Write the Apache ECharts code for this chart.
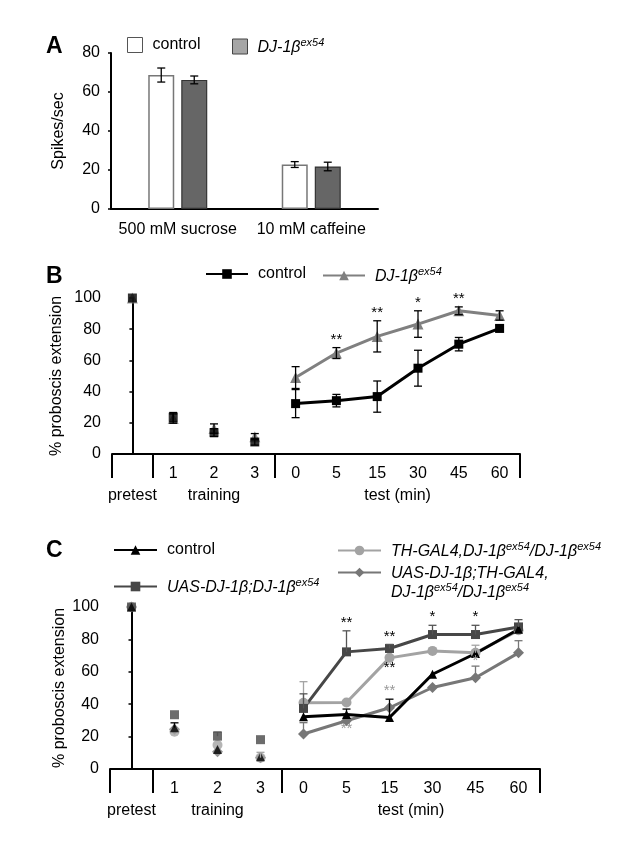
<!DOCTYPE html>
<html>
<head>
<meta charset="utf-8">
<script src="https://cdn.jsdelivr.net/npm/echarts@6/dist/echarts.min.js"></script>
<style>
  html, body { margin: 0; padding: 0; background: #fff; }
  #main { width: 621px; height: 863px; }
</style>
</head>
<body>
<div id="main"></div>
<script>
// ---- panel A : spikes/sec
const stimuliA = ['500 mM sucrose', '10 mM caffeine'];
const controlA = [68.7, 22.8];
const controlAErr = [3.6, 1.5];
const mutantA = [66.2, 21.8];
const mutantAErr = [2.0, 2.2];

// ---- x categories shared by B and C
const timepoints = ['', '1', '2', '3', '0', '5', '15', '30', '45', '60'];
const phases = [
  { name: 'pretest', first: 0, last: 0 },
  { name: 'training', first: 1, last: 3 },
  { name: 'test (min)', first: 4, last: 9 }
];

// ---- panel B
const controlB = [100, 23.6, 13.7, 7.7, 32.3, 34.2, 36.8, 55.0, 70.4, 80.5];
const controlBErr = [0, 3, 2.5, 2, 9, 4, 10, 11.5, 4.3, 2];
const mutantB = [100, 22.7, 16.3, 11.1, 49.0, 64.7, 75.4, 83.3, 91.8, 88.8];
const mutantBErr = [0, 3, 3, 2, 7, 3.5, 10, 8.5, 2.5, 3];
const sigB = ['', '', '', '', '', '**', '**', '*', '**', ''];

// ---- panel C
const controlC = [100, 25.5, 12.0, 7.5, 32.2, 33.7, 31.8, 58.5, 71.3, 86.3];
const controlCErr = [0, 3, 0, 0, 0, 3.3, 11.3, 0, 0, 0];
const uasC = [100, 33.5, 20.3, 18.1, 37.4, 72.3, 74.4, 83.0, 83.0, 87.7];
const uasCErr = [0, 0, 2.5, 0, 9, 13, 2.5, 5.7, 5.7, 4.5];
const thC = [100, 23.0, 14.8, 7.0, 40.9, 41.1, 68.6, 72.9, 71.7, 85.6];
const thCErr = [0, 0, 0, 3.3, 13, 0, 0, 0, 4.7, 0];
const diaC = [100, 24.5, 10.7, 7.0, 21.6, 29.8, 37.8, 50.3, 56.3, 71.7];
const diaCErr = [0, 0, 0, 0, 7, 0, 0, 0, 7.2, 7.5];
const sigCUas = ['', '', '', '', '', '**', '**', '*', '*', ''];
const sigCTh = ['', '', '', '', '', '', '**', '', '', ''];
const sigCThGray = ['', '', '', '', '', '', '', '', '*', ''];
const sigCDia = ['', '', '', '', '', '**', '', '', '', ''];
const sigCCtlGray = ['', '', '', '', '', '', '**', '', '', ''];

const FONT = 'Liberation Sans';
const chart = echarts.init(document.getElementById('main'));

const testIdx = i => i >= phases[2].first;
const axisLineStyle = { color: '#000', width: 2 };

function yAxisFor(grid, max, name, gap) {
  return {
    gridIndex: grid, type: 'value', min: 0, max: max, interval: 20,
    axisLine: { show: true, lineStyle: axisLineStyle },
    axisTick: { show: true, length: 3, lineStyle: { color: '#000', width: 1.5 } },
    splitLine: { show: false },
    axisLabel: { fontSize: 16, color: '#000', fontFamily: FONT, margin: 11 },
    name: name, nameLocation: 'middle', nameGap: gap, nameMoveOverlap: false,
    nameTextStyle: { fontSize: 16, color: '#000', fontFamily: FONT }
  };
}

function timeAxis(grid) {
  const starts = phases.map(p => p.first);
  return {
    gridIndex: grid, type: 'category', data: timepoints,
    axisLine: { show: true, lineStyle: axisLineStyle },
    axisTick: {
      show: true, length: 24, interval: (i) => starts.indexOf(i) >= 0,
      lineStyle: { color: '#000', width: 2 }
    },
    axisLabel: { interval: 0, margin: 12, fontSize: 16, color: '#000', fontFamily: FONT }
  };
}

function phaseAxis(grid) {
  return {
    gridIndex: grid, type: 'value', min: -0.5, max: timepoints.length - 0.5, interval: 0.5,
    position: 'bottom',
    axisLine: { show: false }, axisTick: { show: false }, splitLine: { show: false },
    axisLabel: {
      margin: 34, fontSize: 16, color: '#000', fontFamily: FONT,
      formatter: v => {
        const p = phases.find(ph => Math.abs((ph.first + ph.last) / 2 - v) < 1e-6);
        return p ? p.name : '';
      }
    }
  };
}

function errSeries(xi, yi, vals, up, down, color, dx) {
  return {
    type: 'custom', xAxisIndex: xi, yAxisIndex: yi, silent: true, z: 4,
    data: vals.map((v, i) => [i, v, up[i], down ? down[i] : 0]),
    renderItem: function (params, api) {
      const i = api.value(0), v = api.value(1), u = api.value(2), d = api.value(3);
      if (!u && !d) return null;
      const top = api.coord([i, v + u]);
      const bot = api.coord([i, v - d]);
      const x = top[0] + dx;
      const st = { stroke: color, lineWidth: 1.3 };
      const ch = [{ type: 'line', shape: { x1: x, y1: top[1], x2: x, y2: bot[1] }, style: st }];
      if (u) ch.push({ type: 'line', shape: { x1: x - 4, y1: top[1], x2: x + 4, y2: top[1] }, style: st });
      if (d) ch.push({ type: 'line', shape: { x1: x - 4, y1: bot[1], x2: x + 4, y2: bot[1] }, style: st });
      return { type: 'group', children: ch };
    }
  };
}

function sigSeries(xi, yi, texts, anchors, color, dy) {
  return {
    type: 'custom', xAxisIndex: xi, yAxisIndex: yi, silent: true, z: 6,
    data: anchors.map((a, i) => [i, a]),
    renderItem: function (params, api) {
      const t = texts[params.dataIndex];
      if (!t) return null;
      const p = api.coord([api.value(0), api.value(1)]);
      return {
        type: 'text', x: p[0], y: p[1] + dy,
        style: { text: t, fill: color, font: '15px ' + FONT, align: 'center', verticalAlign: 'middle' }
      };
    }
  };
}

function pointSeries(name, xi, yi, vals, color, symbol, size) {
  return [
    {
      name: name, type: 'line', xAxisIndex: xi, yAxisIndex: yi,
      data: vals.map((v, i) => testIdx(i) ? v : '-'),
      symbol: symbol, symbolSize: size, showSymbol: true,
      lineStyle: { color: color, width: 3 }, itemStyle: { color: color },
      z: 3
    },
    {
      name: name + ' pts', type: 'scatter', xAxisIndex: xi, yAxisIndex: yi,
      data: vals.map((v, i) => testIdx(i) ? '-' : v),
      symbol: symbol, symbolSize: size, itemStyle: { color: color }, z: 3
    }
  ];
}

const sumArr = (a, b) => a.map((v, i) => v + b[i]);

const legendText = {
  'A-control': 'control',
  'A-mut': '{i|DJ-1β}{s|ex54}',
  'B-control': 'control',
  'B-mut': '{i|DJ-1β}{s|ex54}',
  'C-control': 'control',
  'C-uas': '{i|UAS-DJ-1β;DJ-1β}{s|ex54}',
  'C-th': '{i|TH-GAL4,DJ-1β}{s|ex54}{i|/DJ-1β}{s|ex54}',
  'C-dia': '{i|UAS-DJ-1β;TH-GAL4,}\n{i|DJ-1β}{s|ex54}{i|/DJ-1β}{s|ex54}'
};

function legendAt(name, left, top, w, h, extra) {
  return Object.assign({
    data: [name], left: left, top: top, padding: 0,
    itemWidth: w, itemHeight: h, selectedMode: false,
    formatter: n => legendText[n],
    textStyle: {
      fontSize: 16, color: '#000', fontFamily: FONT, padding: [0, 0, 0, 5],
      rich: {
        i: { fontSize: 16, fontStyle: 'italic', fontFamily: FONT, color: '#000', verticalAlign: 'bottom', lineHeight: 19 },
        s: { fontSize: 11, fontStyle: 'italic', fontFamily: FONT, color: '#000', verticalAlign: 'bottom', padding: [0, 0, 8, 0] }
      }
    }
  }, extra || {});
}

const option = {
  backgroundColor: '#fff',
  animation: false,
  title: [
    { text: 'A', left: 46, top: 35, padding: 0, textStyle: { fontSize: 23, fontWeight: 'bold', color: '#000', fontFamily: FONT } },
    { text: 'B', left: 46, top: 265, padding: 0, textStyle: { fontSize: 23, fontWeight: 'bold', color: '#000', fontFamily: FONT } },
    { text: 'C', left: 46, top: 539, padding: 0, textStyle: { fontSize: 23, fontWeight: 'bold', color: '#000', fontFamily: FONT } }
  ],
  legend: [
    legendAt('A-control', 127, 37, 15, 15, { icon: 'rect', data: [{ name: 'A-control', itemStyle: { color: '#fff', borderColor: '#555', borderWidth: 1 } }] }),
    legendAt('A-mut', 232, 37, 15, 15, { icon: 'rect', data: [{ name: 'A-mut', itemStyle: { color: '#a6a6a6', borderColor: '#444', borderWidth: 1 } }] }),
    legendAt('B-control', 205, 266, 42, 12),
    legendAt('B-mut', 322, 266, 42, 12),
    legendAt('C-control', 113, 542, 43, 12),
    legendAt('C-uas', 113, 577, 43, 12),
    legendAt('C-th', 337, 541, 43, 12),
    legendAt('C-dia', 337, 566, 43, 12, { textStyle: Object.assign({}, legendAt('x').textStyle, { padding: [19, 0, 0, 5] }) })
  ],
  grid: [
    { left: 111, top: 53, width: 267, height: 156 },
    { left: 112, top: 298, width: 408, height: 156 },
    { left: 110, top: 607, width: 430, height: 162 }
  ],
  xAxis: [
    {
      gridIndex: 0, type: 'category', data: stimuliA,
      axisLine: { show: true, lineStyle: axisLineStyle },
      axisTick: { show: false },
      axisLabel: { margin: 13, fontSize: 16, color: '#000', fontFamily: FONT, interval: 0 }
    },
    timeAxis(1), phaseAxis(1),
    timeAxis(2), phaseAxis(2)
  ],
  yAxis: [
    yAxisFor(0, 80, 'Spikes/sec', 44),
    yAxisFor(1, 100, '% proboscis extension', 47),
    yAxisFor(2, 100, '% proboscis extension', 42)
  ],
  series: [
    // A
    {
      name: 'A-control', type: 'bar', xAxisIndex: 0, yAxisIndex: 0, data: controlA,
      barWidth: 26, barGap: '27%',
      itemStyle: { color: '#fff', borderColor: '#777', borderWidth: 1.5 }
    },
    {
      name: 'A-mut', type: 'bar', xAxisIndex: 0, yAxisIndex: 0, data: mutantA,
      barWidth: 26, barGap: '27%',
      itemStyle: { color: '#666', borderColor: '#333', borderWidth: 1.2 }
    },
    errSeries(0, 0, controlA, controlAErr, controlAErr, '#000', -16.5),
    errSeries(0, 0, mutantA, mutantAErr, mutantAErr, '#000', 16.5),

    // B
    ...pointSeries('B-mut', 1, 1, mutantB, '#808080', 'triangle', 11),
    ...pointSeries('B-control', 1, 1, controlB, '#000', 'rect', 9),
    errSeries(1, 1, mutantB, mutantBErr, mutantBErr, '#000', 0),
    errSeries(1, 1, controlB, controlBErr, controlBErr, '#000', 0),
    sigSeries(1, 1, sigB, sumArr(mutantB, mutantBErr), '#000', -8),

    // C
    ...pointSeries('C-dia', 3, 2, diaC, '#777', 'diamond', 11),
    ...pointSeries('C-th', 3, 2, thC, '#a3a3a3', 'circle', 10),
    ...pointSeries('C-uas', 3, 2, uasC, '#474747', 'rect', 9),
    ...pointSeries('C-control', 3, 2, controlC, '#000', 'triangle', 9),
    errSeries(3, 2, diaC, diaCErr, null, '#777', 0),
    errSeries(3, 2, thC, thCErr, null, '#a3a3a3', 0),
    errSeries(3, 2, uasC, uasCErr, null, '#555', 0),
    errSeries(3, 2, controlC, controlCErr, null, '#000', 0),
    sigSeries(3, 2, sigCUas, sumArr(uasC, uasCErr), '#000', -8),
    sigSeries(3, 2, sigCTh, thC, '#000', 10),
    sigSeries(3, 2, sigCThGray, thC, '#999', 8),
    sigSeries(3, 2, sigCDia, diaC, '#999', 8),
    sigSeries(3, 2, sigCCtlGray, sumArr(controlC, controlCErr), '#999', -8)
  ]
};

chart.setOption(option);
</script>
</body>
</html>
